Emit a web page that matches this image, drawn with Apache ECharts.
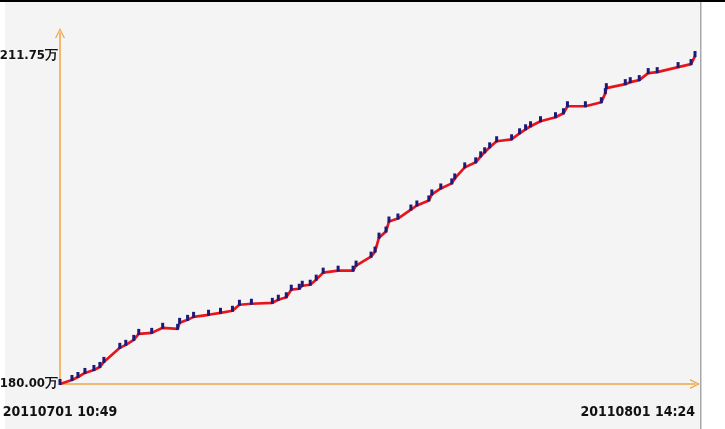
<!DOCTYPE html>
<html>
<head>
<meta charset="utf-8">
<script src="https://cdn.jsdelivr.net/npm/echarts@6/dist/echarts.min.js"></script>
<style>
  html, body { margin: 0; padding: 0; background: #fff; }
  #chart { width: 725px; height: 429px; }
</style>
</head>
<body>
<div id="chart"></div>
<script>
// x = days since 20110701 10:49, y = amount in 万
var startLabel = '20110701 10:49';
var endLabel = '20110801 14:24';
var spanDays = 31.149;

var days = [0, 0.587, 0.880, 1.222, 1.663, 1.956, 2.152, 2.934, 3.227, 3.619,
  3.863, 4.499, 5.037, 5.770, 5.868, 6.259, 6.553, 7.286, 7.873, 8.460,
  8.802, 9.389, 10.416, 10.709, 11.100, 11.345, 11.736, 11.883, 12.274, 12.568,
  12.910, 13.643, 14.377, 14.523, 15.257, 15.452, 15.648, 15.990, 16.137, 16.577,
  17.213, 17.506, 18.093, 18.240, 18.680, 19.218, 19.365, 19.854, 20.392, 20.637,
  20.832, 21.077, 21.419, 22.153, 22.544, 22.838, 23.082, 23.571, 24.305, 24.696,
  24.892, 25.772, 26.555, 26.751, 26.800, 27.729, 27.973, 28.414, 28.854, 29.294,
  30.319, 30.954, 31.149];
var amounts = [180.00, 180.39, 180.68, 181.07, 181.36, 181.65, 182.14, 183.50, 183.79, 184.27,
  184.85, 184.95, 185.44, 185.34, 185.92, 186.21, 186.50, 186.70, 186.89, 187.09,
  187.67, 187.77, 187.86, 188.16, 188.40, 189.13, 189.22, 189.51, 189.61, 190.10,
  190.78, 190.97, 190.97, 191.46, 192.33, 192.82, 194.17, 194.76, 195.73, 196.02,
  196.89, 197.28, 197.77, 198.35, 198.93, 199.42, 199.90, 200.97, 201.46, 202.04,
  202.43, 202.91, 203.50, 203.69, 204.27, 204.66, 204.95, 205.44, 205.83, 206.21,
  206.89, 206.89, 207.28, 208.16, 208.64, 209.03, 209.22, 209.42, 210.10, 210.19,
  210.68, 210.97, 211.75];

var yMin = 180, yTop = 211.75;

var points = days.map(function (d, i) { return [d, amounts[i]]; });

var axisColor = '#f0a445';
var arrow = 'path://M0,10 L5,0 L10,10 L8.6,10 L5,2.6 L1.4,10 Z';
var fontFamily = '"Liberation Sans Narrow", "DejaVu Sans Condensed", sans-serif';

var chart = echarts.init(document.getElementById('chart'));
chart.setOption({
  animation: false,
  backgroundColor: '#fff',
  graphic: [
    { type: 'rect', z: -10, shape: { x: 5, y: 0, width: 695, height: 429 }, style: { fill: '#f4f4f4' } },
    { type: 'rect', z: -9, shape: { x: 700, y: 0, width: 1.5, height: 429 }, style: { fill: '#a8a8a8' } },
    { type: 'rect', z: -9, shape: { x: 0, y: 0, width: 725, height: 2 }, style: { fill: '#000' } }
  ],
  grid: { left: 60, right: 30, top: 33, bottom: 45, containLabel: false, outerBoundsMode: 'none' },
  xAxis: {
    type: 'value',
    min: 0,
    max: spanDays,
    interval: spanDays,
    splitLine: { show: false },
    axisTick: { show: false },
    axisLine: {
      lineStyle: { color: axisColor, width: 1.5 },
      symbol: ['none', arrow],
      symbolSize: [10, 10]
    },
    axisLabel: {
      margin: 21,
      alignMaxLabel: 'right',
      color: '#111',
      fontFamily: fontFamily,
      fontSize: 14,
      fontWeight: 'bold',
      formatter: function (v) { return v === 0 ? startLabel : endLabel; }
    }
  },
  yAxis: {
    type: 'value',
    min: yMin,
    max: 213.98,
    interval: yTop - yMin,
    splitLine: { show: false },
    axisTick: { show: false },
    axisLine: {
      show: true,
      lineStyle: { color: axisColor, width: 1.5 },
      symbol: ['none', arrow],
      symbolSize: [10, 10]
    },
    axisLabel: {
      margin: 2,
      showMaxLabel: false,
      color: '#111',
      fontFamily: fontFamily,
      fontSize: 13,
      fontWeight: 'bold',
      formatter: function (v) {
        if (Math.abs(v - yMin) < 0.01 || Math.abs(v - yTop) < 0.01) return v.toFixed(2) + '万';
        return '';
      }
    }
  },
  series: [{
    type: 'line',
    data: points,
    showAllSymbol: true,
    symbol: 'rect',
    symbolSize: [3, 6],
    symbolOffset: [0, -2],
    itemStyle: { color: '#1c1a78' },
    lineStyle: { color: '#e8141c', width: 2.7 },
    clip: false
  }]
});
</script>
</body>
</html>
